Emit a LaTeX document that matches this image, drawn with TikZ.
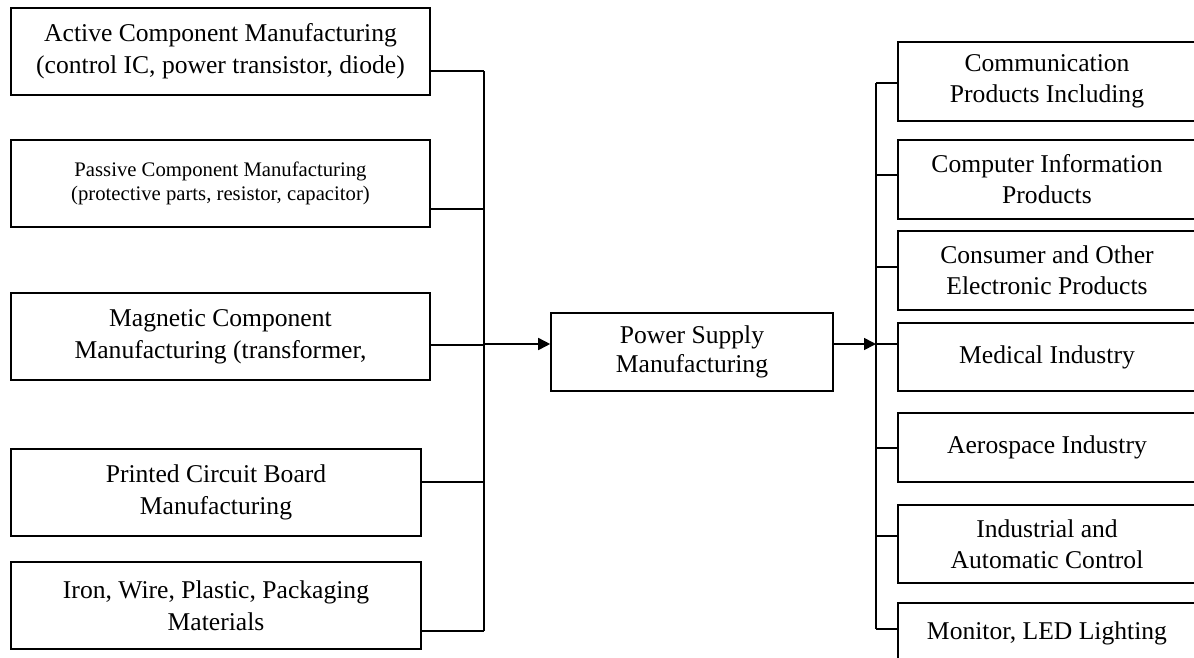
\documentclass[tikz,border=0pt]{standalone}
\usepackage{fontspec}
\setmainfont{Liberation Serif}
\usepackage{tikz}
\tikzstyle{srcbox} = [draw, line width=1.6pt, align=center, inner sep=0pt,
    minimum height=87pt, font=\fontsize{25.6}{32}\selectfont]
\tikzstyle{mainbox} = [draw, line width=1.6pt, align=center, inner sep=0pt,
    minimum width=282pt, minimum height=78pt, font=\fontsize{25.6}{29}\selectfont]
\tikzstyle{usebox} = [draw, line width=1.6pt, align=center, inner sep=0pt,
    minimum width=298pt, font=\fontsize{25.6}{31}\selectfont]
\usetikzlibrary{arrows.meta}
\tikzset{>={Triangle[length=12pt,width=12pt]}}

\begin{document}
\begin{tikzpicture}[x=1pt,y=-1pt,line width=1.6pt]
    \useasboundingbox (0,0) rectangle (1194,657);
    \clip (0,0) rectangle (1194,657);
    %suppliers
    \node[srcbox,minimum width=419pt] (act) at (220.5,51.5)
        {Active Component Manufacturing\\(control IC, power transistor, diode)};
    \node[srcbox,minimum width=419pt,font=\fontsize{20.7}{24}\selectfont] (pas) at (220.5,183.5)
        {Passive Component Manufacturing\\(protective parts, resistor, capacitor)};
    \node[srcbox,minimum width=419pt] (mag) at (220.5,336.5)
        {Magnetic Component\\Manufacturing (transformer,};
    \node[srcbox,minimum width=410pt] (pcb) at (216,492.5)
        {Printed Circuit Board\\Manufacturing};
    \node[srcbox,minimum width=410pt] (iron) at (216,605.5)
        {Iron, Wire, Plastic, Packaging\\Materials};
    %power supply
    \node[mainbox] (psm) at (692,352) {Power Supply\\Manufacturing};
    %applications
    \node[usebox,minimum height=79pt] (com) at (1047,81.5) {Communication\\Products Including};
    \node[usebox,minimum height=79pt] (cpu) at (1047,179.5) {Computer Information\\Products};
    \node[usebox,minimum height=79pt] (con) at (1047,270.5) {Consumer and Other\\Electronic Products};
    \node[usebox,minimum height=68pt] (med) at (1047,357) {Medical Industry};
    \node[usebox,minimum height=69pt] (aer) at (1047,447.5) {Aerospace Industry};
    \node[usebox,minimum height=78pt] (ind) at (1047,544) {Industrial and\\Automatic Control};
    \node[usebox,minimum height=60pt] (mon) at (1047,633) {Monitor, LED Lighting};
    %buses
    \coordinate (lbus) at (484,344);
    \coordinate (rbus) at (876,344);
    \foreach \n/\y in {act/71, pas/209, mag/345, pcb/482, iron/631}
    {\draw (\n.east |- 0,\y) -- (lbus |- 0,\y);}
    \draw (lbus |- 0,71) -- (lbus |- 0,631);
    \draw[->] (lbus) -- (lbus -| psm.west);
    \draw[->] (psm.east |- rbus) -- (rbus);
    \foreach \n/\y in {com/83, cpu/175, con/267, med/344, aer/448, ind/536, mon/629}
    {\draw (rbus |- 0,\y) -- (\n.west |- 0,\y);}
    \draw (rbus |- 0,83) -- (rbus |- 0,629);
\end{tikzpicture}
\end{document}
